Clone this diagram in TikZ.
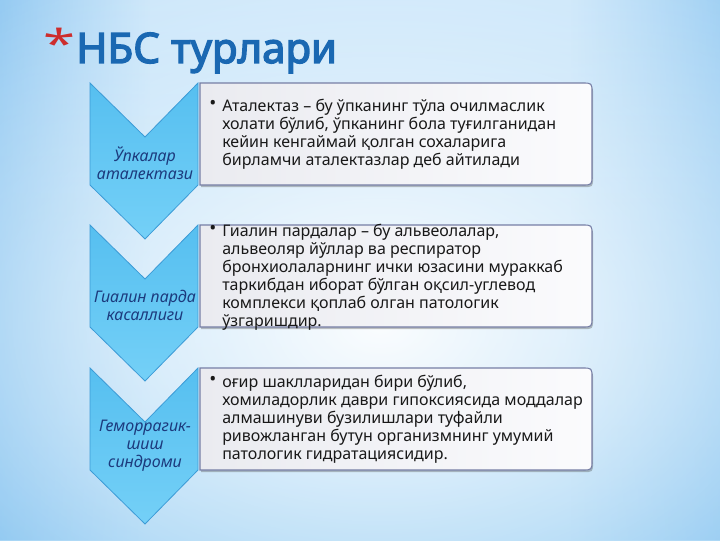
\documentclass[tikz,border=0pt]{standalone}
\usepackage{fontspec}
\setmainfont{Noto Sans}
\newfontfamily\titlefont[FakeBold=3.2]{Noto Sans}
\usetikzlibrary{shadows,fadings}
\definecolor{bgTop}{RGB}{200,229,250}
\definecolor{bgBot}{RGB}{145,203,243}
\definecolor{bgEdge}{RGB}{105,180,236}
\definecolor{titleblue}{RGB}{26,104,178}
\definecolor{starred}{RGB}{205,45,45}
\definecolor{chevA}{RGB}{86,191,240}
\definecolor{chevB}{RGB}{116,208,247}
\definecolor{chevline}{RGB}{60,155,214}
\definecolor{chevtext}{RGB}{28,58,125}
\definecolor{boxline}{RGB}{118,126,165}
\definecolor{boxA}{RGB}{234,235,240}
\definecolor{boxB}{RGB}{251,251,253}
\definecolor{bodytext}{RGB}{25,25,25}
\tikzfading[name=glowfade, inner color=transparent!0, outer color=transparent!100]
\tikzfading[name=fadeleft, left color=transparent!0, right color=transparent!100]
\tikzfading[name=faderight, left color=transparent!100, right color=transparent!0]
\tikzset{
  chevshape/.style={top color=chevA, bottom color=chevB, draw=chevline, line width=0.6pt},
  boxshape/.style={left color=boxA, right color=boxB, draw=boxline, line width=0.8pt,
    drop shadow={shadow xshift=0.8pt, shadow yshift=-1.6pt, opacity=0.35, fill=black!70}},
  chevlabel/.style={font=\fontsize{12}{13.5}\selectfont\itshape, text=chevtext, align=center, inner sep=0pt},
  bodylabel/.style={font=\fontsize{12}{13.5}\selectfont, text=bodytext, align=left, anchor=west, inner sep=0pt},
}
\newcommand{\bul}{\llap{\raisebox{1.2pt}{\fontsize{14}{14}\selectfont •}\hspace{4.5pt}}}
\newcommand{\chevpath}[1]{(90,#1) -- (145,#1-54) -- (198,#1) -- (198,#1-102) -- (145,#1-156) -- (90,#1-102) -- cycle}
\begin{document}
\begin{tikzpicture}[x=0.75pt,y=0.75pt]
\useasboundingbox (0,0) rectangle (720,540);
% background
\begin{scope}
\clip (0,0) rectangle (720,540);
\shade[top color=bgTop, bottom color=bgBot] (0,0) rectangle (720,540);
\fill[bgEdge, path fading=fadeleft, opacity=0.55] (0,0) rectangle (150,540);
\fill[bgEdge, path fading=faderight, opacity=0.45] (570,0) rectangle (720,540);
\fill[white, path fading=glowfade, opacity=0.95] (380,215) ellipse [x radius=620, y radius=420];
\end{scope}
% title
\node[anchor=center, inner sep=0pt, text=starred, font=\fontsize{30}{30}\selectfont, xscale=1.45, transform shape] (star) at (59,497) {*};
\node[anchor=base west, inner sep=0pt, text=titleblue, font=\fontsize{31.5}{31.5}\titlefont] (title) at (76,477) {НБС турлари};
% boxes
\foreach \T/\B in {457/355, 315/213, 172/70}{
  \path[boxshape] (200,\T) -- (582,\T) .. controls (592,\T) .. (592,\T-10) -- (592,\B+10) .. controls (592,\B) .. (582,\B) -- (200,\B) -- cycle;
}
% chevrons
\path[chevshape] \chevpath{457};
\path[chevshape] \chevpath{315};
\path[chevshape] \chevpath{172};
% chevron labels
\node[chevlabel] (c1) at (145,377) {Ўпкалар\\аталектази};
\node[chevlabel] (c2) at (145,235) {Гиалин парда\\касаллиги};
\node[chevlabel] (c3) at (145,94) {Геморрагик-\\шиш\\синдроми};
% body texts
\node[bodylabel] (t1) at (222,406) {\bul Аталектаз – бу ўпканинг тўла очилмаслик\\холати бўлиб, ўпканинг бола туғилганидан\\кейин кенгаймай қолган сохаларига\\бирламчи аталектазлар деб айтилади};
\node[bodylabel] (t2) at (222,263) {\bul Гиалин пардалар – бу альвеолалар,\\альвеоляр йўллар ва респиратор\\бронхиолаларнинг ички юзасини мураккаб\\таркибдан иборат бўлган оқсил-углевод\\комплекси қоплаб олган патологик\\ўзгаришдир.};
\node[bodylabel] (t3) at (222,121) {\bul оғир шаклларидан бири бўлиб,\\хомиладорлик даври гипоксиясида моддалар\\алмашинуви бузилишлари туфайли\\ривожланган бутун организмнинг умумий\\патологик гидратациясидир.};
\end{tikzpicture}
\end{document}
